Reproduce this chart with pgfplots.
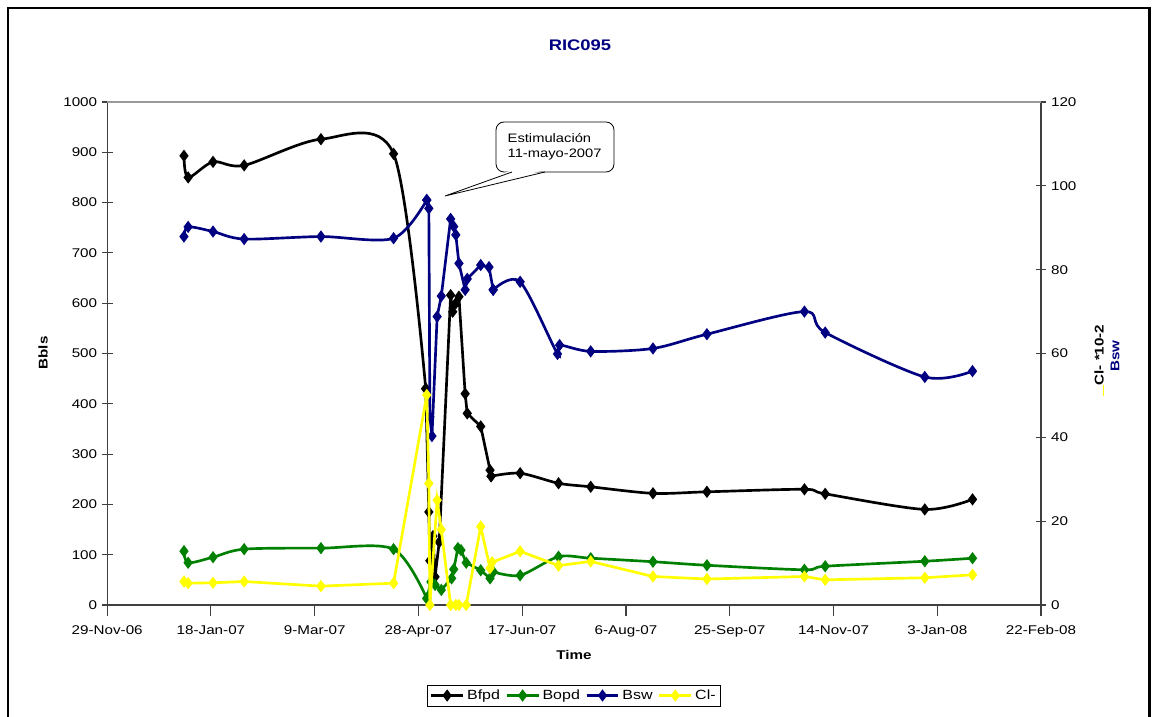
\documentclass[border=0pt]{standalone}
\usepackage{pgfplots}
\pgfplotsset{compat=1.18}
\usepackage{fontspec}
\setmainfont{Liberation Sans}[FakeStretch=1.2]

\definecolor{bswblue}{RGB}{0,0,128}
\definecolor{bopdgreen}{RGB}{0,128,0}
\definecolor{clyellow}{RGB}{255,255,0}
\newcommand{\lbl}{\fontsize{9.5}{11.4}\selectfont}

\pgfplotsset{
  prodline/.style={line width=2pt, mark=diamond*, mark size=3pt, mark options={solid}},
  common/.style={
    scale only axis, width=700.35pt, height=377.25pt,
    at={(80.4pt,84pt)}, anchor=south west,
    xmin=0, xmax=450, clip mode=individual,
    tick label style={font=\lbl},
    /pgf/number format/assume math mode=true,
    /pgf/number format/set thousands separator={},
    tick align=center, major tick length=8pt,
    axis line style={draw=black!75, line width=0.8pt},
    tick style={draw=black!75, line width=0.8pt},
    legend image code/.code={%
      \draw[mark repeat=2,mark phase=2,##1] plot coordinates {(0cm,0cm) (0.42cm,0cm) (0.84cm,0cm)};},
  },
}

\begin{document}
\begin{tikzpicture}
\useasboundingbox (0,0) rectangle (864.75pt,537.75pt);

% production rates, left axis (days since 29-Nov-06)
% the busy weeks around the stimulation are joined by straight segments
\begin{axis}[common,
  ymin=0, ymax=1000, ytick={0,100,...,1000},
  axis x line*=bottom, axis y line*=left,
  xtick={0,50,...,450},
  xticklabels={29-Nov-06,18-Jan-07,9-Mar-07,28-Apr-07,17-Jun-07,6-Aug-07,25-Sep-07,14-Nov-07,3-Jan-08,22-Feb-08},
  xtick style={yshift=-4pt},
  xticklabel style={yshift=-8pt},
]
% Bfpd
\addplot[prodline, black, smooth] coordinates {
 (37,893) (39,850) (51,881) (66,874) (103,926) (138,897) (153.5,430)
};
\addplot[prodline, black] coordinates {
 (153.5,430) (155,185) (155.5,88) (157,137) (158,56) (160,125)
 (165.5,616) (166.5,583) (168,600) (169.5,613)
 (172.5,420) (173.5,381) (180,355) (184.5,268) (185,256)
};
\addplot[prodline, black, smooth] coordinates {
 (185,256) (199,262)
 (217.5,242) (233,235) (263,222) (289,225) (336,230) (346,221) (394,190) (417,210)
};
% Bopd
\addplot[prodline, bopdgreen, smooth] coordinates {
 (37,107) (39,84) (51,95) (66,111) (103,113) (138,111) (154,13)
};
\addplot[prodline, bopdgreen] coordinates {
 (154,13) (156,46) (158,40) (161,30) (166,53) (167,71) (169,113) (170.5,109)
 (173,84) (180,69) (184.5,53) (186,66)
};
\addplot[prodline, bopdgreen, smooth] coordinates {
 (186,66) (199,59)
 (217.5,96) (233,93) (263,86) (289,79) (336,70) (346,77) (394,87) (417,93)
};
\end{axis}

% water cut and chlorides, right axis
\begin{axis}[common,
  ymin=0, ymax=120, ytick={0,20,...,120},
  axis x line=none, axis y line*=right,
  legend style={at={(0.5,-0.18)}, anchor=center, draw=black, line width=0.6pt,
    font=\fontsize{10}{12}\selectfont, legend columns=4, inner sep=1.5pt,
    /tikz/every even column/.append style={column sep=2pt}},
]
\addlegendimage{prodline, black}
\addlegendentry{Bfpd}
\addlegendimage{prodline, bopdgreen}
\addlegendentry{Bopd}
% Bsw
\addplot[prodline, bswblue, smooth] coordinates {
 (37,87.9) (39,90.2) (51,89.1) (66,87.3) (103,87.9) (138,87.5) (154,96.6)
};
\addlegendentry{Bsw}
\addplot[prodline, bswblue, forget plot] coordinates {
 (154,96.6) (155,94.6) (155.5,44.9) (156.5,40.3) (159,68.8) (161,73.7)
 (165.5,92.1) (167,90.3) (168,88.3) (169.5,81.5) (172.5,75.2) (173.5,77.8)
 (180,81.1) (184,80.6) (186,75.2)
};
\addplot[prodline, bswblue, smooth, forget plot] coordinates {
 (186,75.2) (199,77.1)
 (217,59.9) (218,62.0) (233,60.5) (263,61.2) (289,64.6) (336,70.0) (346,65.0) (394,54.4) (417,55.8)
};
% Cl-
\addplot[prodline, clyellow] coordinates {
 (37,5.6) (39,5.2) (51,5.3) (66,5.6) (103,4.5) (138,5.2)
 (154,50.1) (155,29.0) (155.5,0) (159,25.0) (161,18.0)
 (165.5,0) (168,0) (169.5,0) (173,0)
 (180,18.7) (184.5,8.8) (185.5,10.2) (199,12.8)
 (217.5,9.4) (233,10.4) (263,6.8) (289,6.2) (336,6.8) (346,6.0) (394,6.5) (417,7.2)
};
\addlegendentry{Cl-}
\end{axis}

% frame, titles and the stimulation callout
\begin{scope}[x=0.75pt, y=-0.75pt, yshift=537.75pt]
  \draw[line width=2.2pt] (8,8) rectangle (1149.5,760);
  \draw[gray!80, line width=0.8pt] (107.2,102) -- (1041,102);
  \node[font=\fontsize{11.5}{13}\selectfont\bfseries, text=bswblue] at (580,45) {RIC095};
  \node[font=\lbl\bfseries, rotate=90] at (43,353) {Bbls};
  \node[font=\lbl\bfseries] at (574,655) {Time};
  \node[font=\lbl\bfseries, rotate=90] at (1099,355) {Cl- *10-2};
  \node[font=\lbl\bfseries, rotate=90, text=bswblue] at (1115,356) {Bsw};
  \draw[clyellow, line width=0.6pt] (1103,385) -- (1103,396);
  \draw[line width=0.6pt, fill=white, rounded corners=6pt] (496,122) rectangle (614,172);
  \fill[white] (512,170) -- (445,196) -- (545,170) -- cycle;
  \draw[line width=0.6pt] (512,172) -- (445,196) -- (545,172);
  \node[font=\fontsize{9.2}{11.5}\selectfont, align=left, anchor=west] at (503,147) {Estimulación\\11-mayo-2007};
\end{scope}
\end{tikzpicture}
\end{document}
